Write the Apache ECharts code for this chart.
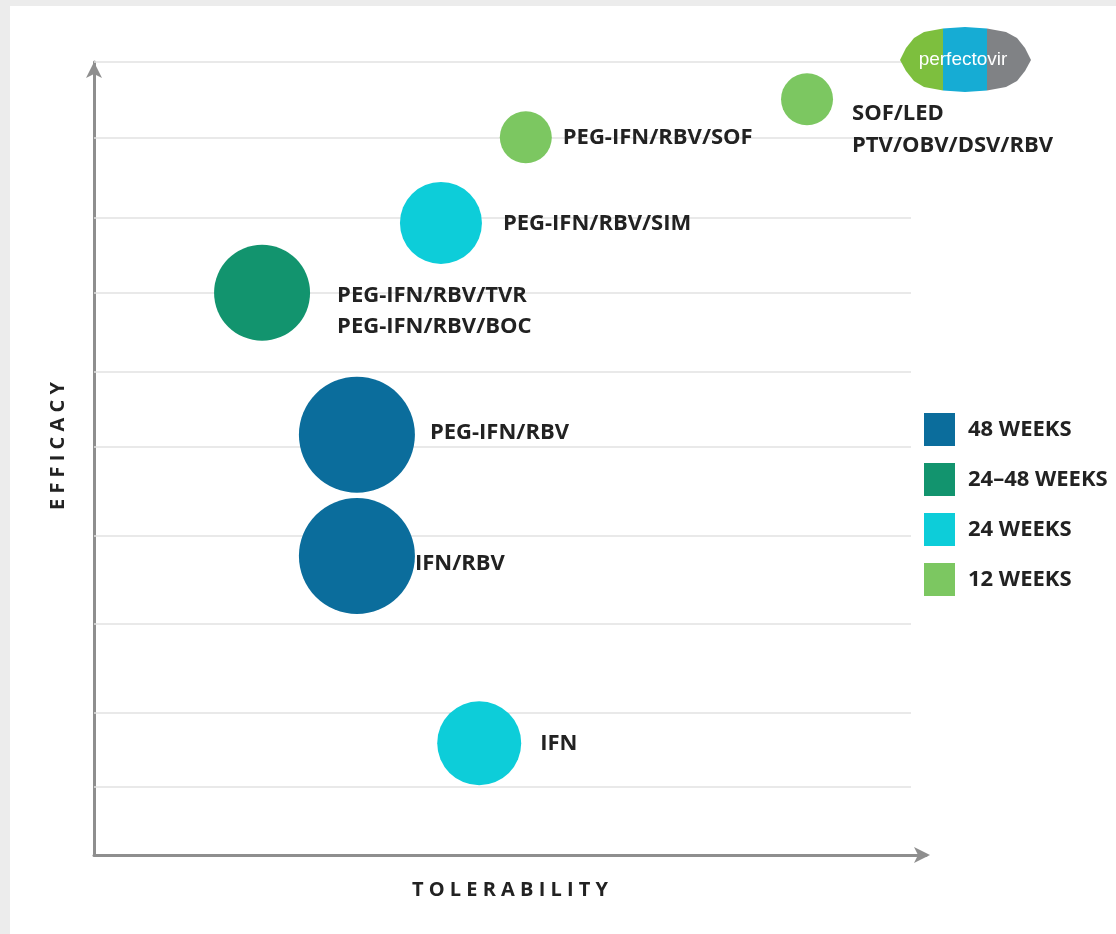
<!DOCTYPE html>
<html>
<head>
<meta charset="utf-8">
<script src="https://cdn.jsdelivr.net/npm/echarts@6/dist/echarts.min.js"></script>
<style>
  html, body { margin: 0; padding: 0; background: #ffffff; }
  #chart { width: 1116px; height: 934px; }
</style>
</head>
<body>
<div id="chart"></div>
<script>
// ---- data ----
const drugs = ['SOF/LED\nPTV/OBV/DSV/RBV', 'PEG-IFN/RBV/SOF', 'PEG-IFN/RBV/SIM', 'PEG-IFN/RBV/TVR\nPEG-IFN/RBV/BOC', 'PEG-IFN/RBV', 'IFN/RBV', 'IFN'];
const tolerability = [85.7, 51.9, 41.7, 20.2, 31.6, 31.6, 46.3];
const efficacy = [95.3, 90.5, 79.7, 70.9, 53.0, 37.7, 14.1];
const bubbleSize = [52, 52, 82, 96, 116, 116, 84];
const duration = ['12 WEEKS', '12 WEEKS', '24 WEEKS', '24–48 WEEKS', '48 WEEKS', '48 WEEKS', '24 WEEKS'];
const durationCats = ['48 WEEKS', '24–48 WEEKS', '24 WEEKS', '12 WEEKS'];
const gridLevels = [100, 90.5, 80.3, 70.9, 60.9, 51.5, 40.2, 29.1, 17.9, 8.6];
const gridEnd = 98.2;

// ---- styles ----
const durationColors = { '48 WEEKS': '#0b6d9c', '24–48 WEEKS': '#12946e', '24 WEEKS': '#0dcdd9', '12 WEEKS': '#7cc761' };
const labelStyle = [
  { distance: 19, offset: [0, 30], lineHeight: 32 },
  { distance: 11, offset: [0, 0] },
  { distance: 21, offset: [0, 1] },
  { distance: 27, offset: [0, 18], lineHeight: 31 },
  { distance: 15, offset: [0, -2] },
  { distance: 0, offset: [0, 8] },
  { distance: 19, offset: [0, 1] }
];
const FONT = '"Open Sans"';

const series = durationCats.map(cat => ({
  name: cat,
  type: 'scatter',
  z: 3,
  itemStyle: { color: durationColors[cat], opacity: 1 },
  data: drugs.map((d, i) => ({ d, i })).filter(o => duration[o.i] === cat).map(o => ({
    name: o.d,
    value: [tolerability[o.i], efficacy[o.i], bubbleSize[o.i]],
    symbolSize: bubbleSize[o.i],
    label: {
      show: true,
      position: 'right',
      formatter: o.d,
      distance: labelStyle[o.i].distance,
      offset: labelStyle[o.i].offset,
      lineHeight: labelStyle[o.i].lineHeight || 26,
      color: '#222',
      fontFamily: FONT,
      fontWeight: 'bold',
      fontSize: 22,
      align: 'left'
    }
  }))
}));

series.unshift({
  name: 'grid',
  type: 'scatter',
  z: 1,
  data: [],
  markLine: {
    silent: true,
    z: 1,
    symbol: 'none',
    animation: false,
    label: { show: false },
    lineStyle: { color: '#e2e2e2', width: 1.5, type: 'solid' },
    data: gridLevels.map(v => [{ coord: [0, v] }, { coord: [gridEnd, v] }])
  }
});

// logo outline
const greenPoly = [[943,28.5],[924,32],[914,38],[906,48],[900,60],[906,71],[914,81],[924,87],[943,90.5]];
const cyanPoly = [[943,28.5],[965,27],[987,28.5],[987,90.5],[965,92],[943,90.5]];
const grayPoly = [[987,28.5],[1006,32],[1017,38],[1025,48],[1031,60],[1025,71],[1017,81],[1006,87],[987,90.5]];

const chart = echarts.init(document.getElementById('chart'), null, { renderer: 'canvas' });
chart.setOption({
  animation: false,
  backgroundColor: '#ffffff',
  grid: { left: 94, top: 62, right: 190, bottom: 79 },
  xAxis: {
    type: 'value', min: 0, max: 100,
    axisLine: { show: true, onZero: false, symbol: ['none', 'arrow'], symbolSize: [12, 16], symbolOffset: [0, 4], lineStyle: { color: '#8e8e8e', width: 3 } },
    axisTick: { show: false }, axisLabel: { show: false }, splitLine: { show: false }
  },
  yAxis: {
    type: 'value', min: 0, max: 100,
    axisLine: { show: true, onZero: false, symbol: ['none', 'arrow'], symbolSize: [12, 16], lineStyle: { color: '#8e8e8e', width: 3 } },
    axisTick: { show: false }, axisLabel: { show: false }, splitLine: { show: false }
  },
  legend: {
    data: durationCats,
    orient: 'vertical',
    left: 919,
    top: 408,
    itemWidth: 31,
    itemHeight: 33,
    itemGap: 17,
    icon: 'rect',
    selectedMode: false,
    textStyle: { color: '#222', fontFamily: FONT, fontWeight: 'bold', fontSize: 22, padding: [0, 0, 0, 8] }
  },
  graphic: [
    { type: 'rect', shape: { x: 0, y: 0, width: 1116, height: 6 }, style: { fill: '#ececec' }, z: 100 },
    { type: 'rect', shape: { x: 0, y: 0, width: 10, height: 934 }, style: { fill: '#ececec' }, z: 100 },
    { type: 'polygon', shape: { points: greenPoly }, style: { fill: '#7dbf3e' }, z: 50 },
    { type: 'polygon', shape: { points: cyanPoly }, style: { fill: '#16acd4' }, z: 50 },
    { type: 'polygon', shape: { points: grayPoly }, style: { fill: '#808285' }, z: 50 },
    { type: 'text', x: 963, y: 60, style: { text: 'perfectovir', fill: '#ffffff', font: '19px "Liberation Sans"', align: 'center', verticalAlign: 'middle' }, z: 51 },
    { type: 'text', x: 58, y: 446, rotation: Math.PI / 2, style: { text: 'EFFICACY'.split('').join(' '), fill: '#222', font: 'bold 20px ' + FONT, align: 'center', verticalAlign: 'middle' }, z: 10 },
    { type: 'text', x: 510, y: 890, style: { text: 'TOLERABILITY'.split('').join(' '), fill: '#222', font: 'bold 20px ' + FONT, align: 'center', verticalAlign: 'middle' }, z: 10 }
  ],
  series: series
});
</script>
</body>
</html>
